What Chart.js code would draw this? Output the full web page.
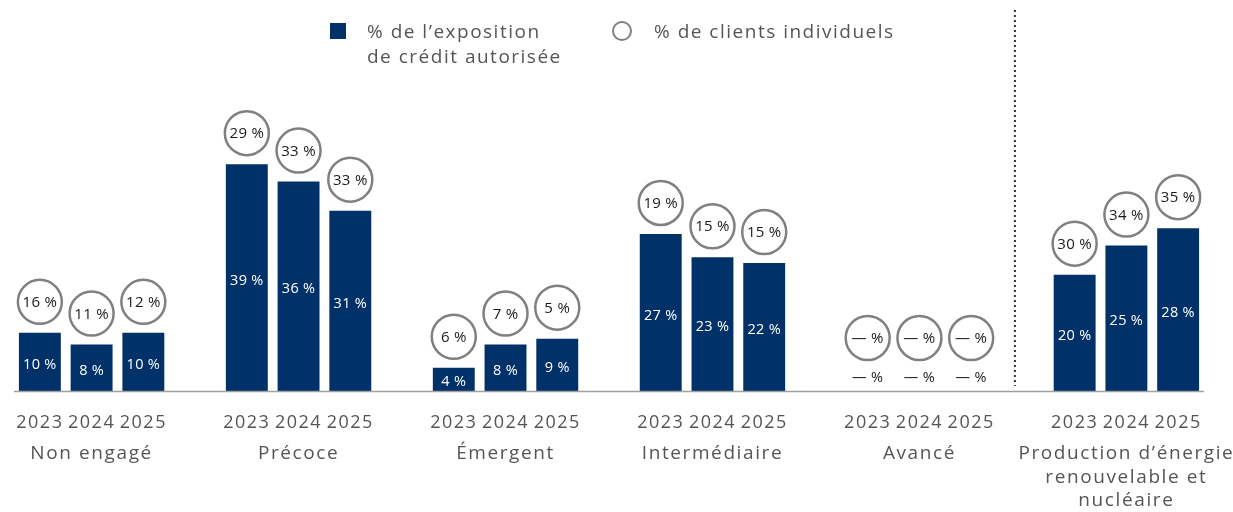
<!DOCTYPE html>
<html lang="fr">
<head>
<meta charset="utf-8">
<script src="https://cdn.jsdelivr.net/npm/chart.js@4"></script>
<style>
  body { margin: 0; background: #fff; }
  #wrap { position: relative; width: 1233px; height: 512px; font-family: "Open Sans", sans-serif; color: #555; }
  .leg { position: absolute; font-size: 19px; line-height: 25px; letter-spacing: 1.5px; }
  .sq { position: absolute; left: 330px; top: 23px; width: 16px; height: 16px; background: #003168; }
  .ci { position: absolute; left: 612px; top: 21px; width: 16px; height: 16px; border: 2.5px solid #808080; border-radius: 50%; }
</style>
</head>
<body>
<div id="wrap">
  <canvas id="chart" width="1233" height="512"></canvas>
  <div class="sq"></div>
  <div class="leg" style="left:367px; top:19px;">% de l’exposition<br>de crédit autorisée</div>
  <div class="ci"></div>
  <div class="leg" style="left:654px; top:19px;">% de clients individuels</div>
</div>
<script>
const groups = ['Non engagé', 'Précoce', 'Émergent', 'Intermédiaire', 'Avancé', ['Production d’énergie', 'renouvelable et', 'nucléaire']];
const years = ['2023', '2024', '2025'];
// % de l'exposition de crédit autorisée (barres)
const exposure = [10, 8, 10, 39, 36, 31, 4, 8, 9, 27, 23, 22, null, null, null, 20, 25, 28];
// % de clients individuels (cercles)
const clients = [16, 11, 12, 29, 33, 33, 6, 7, 5, 19, 15, 15, null, null, null, 30, 34, 35];

const navy = '#003168';

// 3 barres par groupe + un emplacement vide entre les groupes
const labels = [];
const barData = [];
const circleData = [];
groups.forEach(function(g, gi) {
    years.forEach(function(y, yi) {
        labels.push(y);
        barData.push(exposure[gi * 3 + yi]);
        circleData.push(clients[gi * 3 + yi]);
    });
    if (gi < groups.length - 1) {
        labels.push('');
        barData.push(null);
        circleData.push(undefined);
    }
});

function pct(v) {
    return (v === null ? '—' : v) + ' %';
}

const markers = {
    id: 'markers',
    beforeDraw: function(chart) {
        chart.ctx.letterSpacing = '1.5px';
    },
    afterDatasetsDraw: function(chart) {
        const ctx = chart.ctx;
        const meta = chart.getDatasetMeta(0);
        const yScale = chart.scales.y;
        const base = yScale.getPixelForValue(0);
        ctx.save();
        ctx.letterSpacing = '0.3px';
        ctx.textAlign = 'center';
        ctx.textBaseline = 'middle';
        meta.data.forEach(function(bar, i) {
            if (labels[i] === '') return;
            const v = barData[i];
            const x = bar.x;
            let cy;
            ctx.font = '14.5px "Open Sans", sans-serif';
            if (v === null) {
                ctx.fillStyle = '#222';
                ctx.fillText(pct(null), x, base - 13);
                cy = base - 53;
            } else {
                ctx.fillStyle = '#fff';
                ctx.fillText(pct(v), x, (bar.y + base) / 2 + 3);
                cy = bar.y - 31;
            }
            ctx.beginPath();
            ctx.arc(x, cy, 22, 0, Math.PI * 2);
            ctx.fillStyle = '#fff';
            ctx.fill();
            ctx.lineWidth = 2.5;
            ctx.strokeStyle = '#808080';
            ctx.stroke();
            ctx.fillStyle = '#1a1a1a';
            ctx.font = '15px "Open Sans", sans-serif';
            ctx.fillText(pct(circleData[i]), x, cy + 1);
        });

        // axe de base
        ctx.beginPath();
        ctx.moveTo(chart.chartArea.left, base + 0.5);
        ctx.lineTo(chart.chartArea.right, base + 0.5);
        ctx.lineWidth = 1.5;
        ctx.strokeStyle = '#a0a0a0';
        ctx.stroke();

        // séparateur pointillé
        const xs = chart.scales.x;
        const sepX = xs.getPixelForValue(19) - 8;
        ctx.beginPath();
        ctx.setLineDash([2, 3]);
        ctx.moveTo(sepX, 10);
        ctx.lineTo(sepX, base - 5);
        ctx.lineWidth = 2;
        ctx.strokeStyle = '#333';
        ctx.stroke();
        ctx.restore();
    },
    afterDraw: function(chart) {
        const ctx = chart.ctx;
        const xs = chart.scales.x;
        ctx.save();
        ctx.letterSpacing = '1.6px';
        ctx.textAlign = 'center';
        ctx.textBaseline = 'middle';
        ctx.fillStyle = '#555';
        ctx.font = '19px "Open Sans", sans-serif';
        groups.forEach(function(g, gi) {
            const x = xs.getPixelForValue(gi * 4 + 1);
            const lines = Array.isArray(g) ? g : [g];
            lines.forEach(function(t, li) {
                ctx.fillText(t, x, 454 + li * 23.5);
            });
        });
        ctx.restore();
        ctx.letterSpacing = '0px';
    }
};

new Chart(document.getElementById('chart'), {
    type: 'bar',
    data: {
        labels: labels,
        datasets: [{
            label: '% de l’exposition de crédit autorisée',
            data: barData,
            backgroundColor: navy,
            barPercentage: 0.81,
            categoryPercentage: 1
        }]
    },
    options: {
        responsive: false,
        animation: false,
        layout: { padding: { left: 14, right: 29, top: 10, bottom: 0 } },
        plugins: {
            legend: { display: false },
            tooltip: { enabled: false }
        },
        scales: {
            x: {
                grid: { display: false, drawTicks: false },
                border: { display: false },
                ticks: {
                    autoSkip: false,
                    maxRotation: 0,
                    padding: 21,
                    color: '#555',
                    font: { family: 'Open Sans', size: 18 }
                },
                afterFit: function(scale) {
                    scale.height = 121;
                    scale.paddingLeft = 0;
                    scale.paddingRight = 0;
                }
            },
            y: {
                display: false,
                min: 0,
                max: 65.5
            }
        }
    },
    plugins: [markers]
});
</script>
</body>
</html>
